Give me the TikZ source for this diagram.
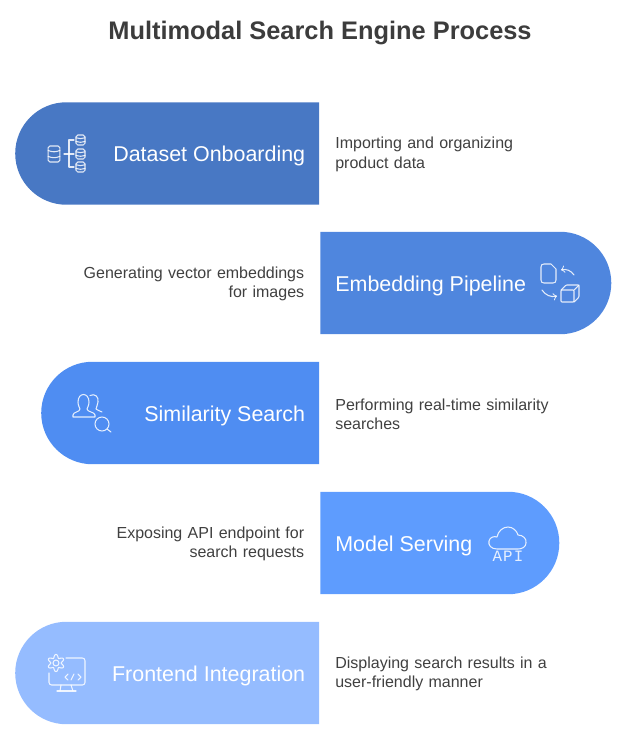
\documentclass[tikz,border=0pt]{standalone}
\usepackage{fontspec}
\setmainfont{Liberation Sans}
\newfontfamily\apifont[LetterSpace=8]{Liberation Mono}
\usetikzlibrary{positioning,shapes.misc}
\definecolor{bandone}{HTML}{4878C4}
\definecolor{bandtwo}{HTML}{4F86DE}
\definecolor{bandthree}{HTML}{4F8DF2}
\definecolor{bandfour}{HTML}{5E9CFE}
\definecolor{bandfive}{HTML}{95BCFF}
\definecolor{desctext}{HTML}{404040}
\definecolor{titletext}{HTML}{3C3C3C}
\begin{document}
\begin{tikzpicture}[
		x=0.02cm, y=-0.02cm,
		bandleft/.style={rounded rectangle, rounded rectangle east arc=none, inner sep=0pt, minimum height=2.05cm},
		bandright/.style={rounded rectangle, rounded rectangle west arc=none, inner sep=0pt, minimum height=2.05cm},
		bandlabel/.style={text=white, font=\fontsize{12.2}{14}\selectfont, inner sep=0pt, yshift=-0.05cm},
		desc/.style={text=desctext, font=\fontsize{9.1}{11}\selectfont, inner sep=0pt, text width=4.6cm, yshift=-0.02cm},
		descleft/.style={desc, align=left},
		descright/.style={desc, align=right},
		iconline/.style={draw=white, draw opacity=0.85, line width=0.6pt, line cap=round, line join=round},
		dbcan/.pic={
			\draw[iconline, rounded corners=1pt] (-4.5,-5) rectangle (4.5,5);
			\draw[iconline] (-4.5,-2.2) to[bend right=18] (4.5,-2.2);
			\draw[iconline] (-4.5,1.5) to[bend right=18] (4.5,1.5);
		}
		]
		
		\useasboundingbox (0,0) rectangle (622,744);
		
		\node (title) [text=titletext, inner sep=0pt, font=\bfseries\fontsize{14.45}{18}\selectfont] at (320,32.5) {Multimodal Search Engine Process};
		
		\node (dataset) [bandleft, fill=bandone, minimum width=6.08cm, anchor=east] at (319.5,153.5) {};
		\node (embedding) [bandright, fill=bandtwo, minimum width=5.82cm, anchor=west] at (320,283) {};
		\node (similarity) [bandleft, fill=bandthree, minimum width=5.56cm, anchor=east] at (319.5,413) {};
		\node (serving) [bandright, fill=bandfour, minimum width=4.78cm, anchor=west] at (320,543) {};
		\node (frontend) [bandleft, fill=bandfive, minimum width=6.08cm, anchor=east] at (319.5,673) {};
		
		\node (datasetlabel) [bandlabel, left=0.28cm of dataset.east] {Dataset Onboarding};
		\node (embeddinglabel) [bandlabel, right=0.3cm of embedding.west] {Embedding Pipeline};
		\node (similaritylabel) [bandlabel, left=0.28cm of similarity.east] {Similarity Search};
		\node (servinglabel) [bandlabel, right=0.3cm of serving.west] {Model Serving};
		\node (frontendlabel) [bandlabel, left=0.28cm of frontend.east] {Frontend Integration};
		
		\node (datasetdesc) [descleft, right=0.31cm of dataset.east] {Importing and organizing\\product data};
		\node (embeddingdesc) [descright, left=0.31cm of embedding.west] {Generating vector embeddings\\for images};
		\node (similaritydesc) [descleft, right=0.31cm of similarity.east] {Performing real-time similarity\\searches};
		\node (servingdesc) [descright, left=0.31cm of serving.west] {Exposing API endpoint for\\search requests};
		\node (frontenddesc) [descleft, right=0.31cm of frontend.east] {Displaying search results in a\\user-friendly manner};
		
		\pic[xscale=1.3, yscale=1.6] at (54,154) {dbcan};
		\pic at (80.5,140) {dbcan};
		\pic at (80.5,154) {dbcan};
		\pic at (80.5,167) {dbcan};
		\draw[iconline] (74,140) -- (69,140) -- (69,167) -- (74,167);
		\draw[iconline] (64,154) -- (74,154);
		
		\draw[iconline] (541,267) -- (541,280) to[bend right=60] (544,283) -- (553,283) to[bend right=60] (556,280) -- (556,269) -- (551,264) -- (544,264) to[bend right=60] (541,267);
		\draw[iconline, ->] (574,275) to[bend right=35] (561,270);
		\draw[iconline, ->] (542,290) to[bend right=35] (557,296);
		\draw[iconline, rounded corners=0.5pt] (561,290) rectangle (574,302);
		\draw[iconline, rounded corners=0.5pt] (561,290) -- (566,285) -- (579,285) -- (579,297) -- (574,302);
		\draw[iconline] (574,290) -- (579,285);
		
		\draw[iconline] (73,417) -- (73,415) .. controls (73,412) and (80,412) .. (80,409) .. controls (80,408) and (78,406) .. (78,402) .. controls (78,392) and (89,392) .. (89,402) .. controls (89,406) and (87,408) .. (87,409) .. controls (87,412) and (95,412) .. (95,415) -- (95,417) -- cycle;
		\draw[iconline] (90,395.5) .. controls (95,393) and (99,397) .. (98,402) .. controls (98,405) and (96,407) .. (96,409) .. controls (97,411) and (100,410) .. (102,412);
		\draw[iconline] (102,424) circle [radius=7];
		\draw[iconline] (107,429) -- (111,432);
		
		\draw[iconline] (497,549) .. controls (491,549) and (488,545) .. (489,541) .. controls (490,537) and (494,536) .. (497,537) .. controls (498,531) and (503,527) .. (508,527) .. controls (513,527) and (517,531) .. (518,535) .. controls (523,535) and (527,539) .. (526,543) .. controls (526,547) and (522,549) .. (518,549) -- cycle;
		\node (apitext) [text=white, text opacity=0.85, inner sep=0pt, font=\apifont\fontsize{9}{10}\selectfont] at (508,556) {API};
		
		\draw[iconline] plot[smooth, samples=73, domain=0:360] ({56+(6.9-1.7*cos(6*\x))*cos(\x)},{663+(6.9-1.7*cos(6*\x))*sin(\x)}) -- cycle;
		\draw[iconline] (56,663) circle [radius=3];
		\draw[iconline, rounded corners=1.5pt] (66,658) -- (85,658) -- (85,685) -- (49,685) -- (49,673);
		\draw[iconline] (61,685) -- (60,691);
		\draw[iconline] (71,685) -- (73,691);
		\draw[iconline] (57,691) -- (76,691);
		\draw[iconline] (68,674) -- (65,677) -- (68,680);
		\draw[iconline] (71,680) -- (74,674);
		\draw[iconline] (78,674) -- (81,677) -- (78,680);
		
	\end{tikzpicture}
\end{document}
